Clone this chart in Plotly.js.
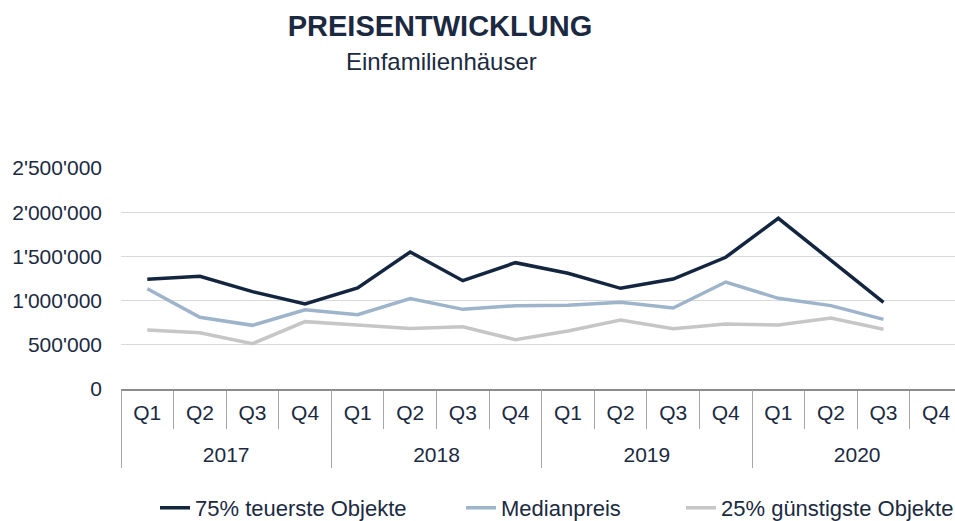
<!DOCTYPE html>
<html>
<head>
<meta charset="utf-8">
<script src="https://cdn.plot.ly/plotly-3.0.1.min.js"></script>
<style>
  html, body { margin: 0; padding: 0; background: #ffffff; overflow: hidden; }
  #chart { width: 955px; height: 521px; }
</style>
</head>
<body>
<div id="chart"></div>
<script>
// ---- Data ----
const years = ['2017','2017','2017','2017','2018','2018','2018','2018','2019','2019','2019','2019','2020','2020','2020','2020'];
const quarters = ['Q1','Q2','Q3','Q4','Q1','Q2','Q3','Q4','Q1','Q2','Q3','Q4','Q1','Q2','Q3','Q4'];
const top75 = [1241000, 1275000, 1101000, 962000, 1143000, 1550000, 1225000, 1429000, 1309000, 1139000, 1244000, 1490000, 1931000, 1457000, 981000, null];
const median = [1135000, 811000, 720000, 897000, 841000, 1022000, 901000, 943000, 946000, 981000, 916000, 1210000, 1026000, 943000, 788000, null];
const low25 = [667000, 637000, 513000, 762000, 724000, 683000, 705000, 558000, 656000, 781000, 683000, 735000, 724000, 803000, 675000, null];
const seriesNames = ['75% teuerste Objekte', 'Medianpreis', '25% günstigste Objekte'];

// category keys (year + quarter), labelled with the quarter on the main axis
const cats = years.map((y, i) => y + ' ' + quarters[i]);
const yearList = years.filter((y, i) => years.indexOf(y) === i);

const textColor = '#1b2a41';
const fontFam = 'Liberation Sans, Arial, sans-serif';

// visible span of the axis (the last quarter is cut at the right edge)
const xr = [-0.5, 15.36];
const perYear = cats.length / yearList.length;
const xr2 = [-0.5, -0.5 + (xr[1] - xr[0]) / perYear];

const traces = [
  {x: cats, y: top75, name: seriesNames[0], type: 'scatter', mode: 'lines', legend: 'legend',
   line: {color: '#14263f', width: 3.5}},
  {x: cats, y: median, name: seriesNames[1], type: 'scatter', mode: 'lines', legend: 'legend2',
   line: {color: '#9db4ca', width: 3.5}},
  {x: cats, y: low25, name: seriesNames[2], type: 'scatter', mode: 'lines', legend: 'legend3',
   line: {color: '#c6c6c6', width: 3.5}},
  // carrier for the year axis (draws nothing)
  {x: yearList, y: yearList.map(() => null), xaxis: 'x2', yaxis: 'y', type: 'scatter', mode: 'lines',
   showlegend: false, hoverinfo: 'skip'}
];

function legendAt(px) {
  return {
    orientation: 'h', xref: 'container', x: px / 955, xanchor: 'left',
    yref: 'container', y: 0.025, yanchor: 'middle',
    font: {family: fontFam, size: 22, color: textColor},
    itemwidth: 30, bgcolor: 'rgba(0,0,0,0)'
  };
}

const layout = {
  width: 955, height: 521,
  margin: {l: 121, r: 0, t: 168, b: 132, pad: 0},
  paper_bgcolor: '#ffffff', plot_bgcolor: '#ffffff',
  separators: ".'",
  font: {family: fontFam, size: 21, color: textColor},
  title: {
    text: '<b>PREISENTWICKLUNG</b>',
    font: {family: fontFam, size: 29, color: textColor},
    xref: 'container', x: 0.4607, xanchor: 'center',
    yref: 'container', y: 0.951, yanchor: 'middle'
  },
  annotations: [{
    text: 'Einfamilienhäuser', showarrow: false,
    xref: 'paper', yref: 'paper', x: 0.3837, y: 1.48, xanchor: 'center', yanchor: 'middle',
    font: {family: fontFam, size: 24, color: textColor}
  }],
  showlegend: true,
  legend: legendAt(155),
  legend2: legendAt(461),
  legend3: legendAt(681),
  xaxis: {
    type: 'category',
    categoryorder: 'array', categoryarray: cats,
    tickmode: 'array', tickvals: cats, ticktext: quarters,
    range: xr,
    showgrid: false, zeroline: false,
    showline: true, linecolor: '#8c8c8c', linewidth: 1.5,
    ticks: 'outside', tickson: 'boundaries', ticklen: 38, tickcolor: '#a6a6a6', tickwidth: 1,
    ticklabelstandoff: 4,
    tickfont: {family: fontFam, size: 21, color: textColor},
    fixedrange: true
  },
  xaxis2: {
    type: 'category', overlaying: 'x', anchor: 'y', side: 'bottom',
    categoryorder: 'array', categoryarray: yearList,
    range: xr2,
    showgrid: false, zeroline: false, showline: false,
    ticks: 'outside', tickson: 'boundaries', ticklen: 78, tickcolor: '#a6a6a6', tickwidth: 1,
    ticklabelstandoff: 51,
    tickfont: {family: fontFam, size: 21, color: textColor},
    fixedrange: true
  },
  yaxis: {
    range: [0, 2500000], dtick: 500000, tick0: 0,
    tickformat: ',d',
    showgrid: true, gridcolor: '#d9d9d9', gridwidth: 1,
    zeroline: false, showline: false, ticks: '',
    ticklabelstandoff: 18,
    tickfont: {family: fontFam, size: 21, color: textColor},
    fixedrange: true
  }
};

Plotly.newPlot('chart', traces, layout, {displayModeBar: false, staticPlot: true});
</script>
</body>
</html>
